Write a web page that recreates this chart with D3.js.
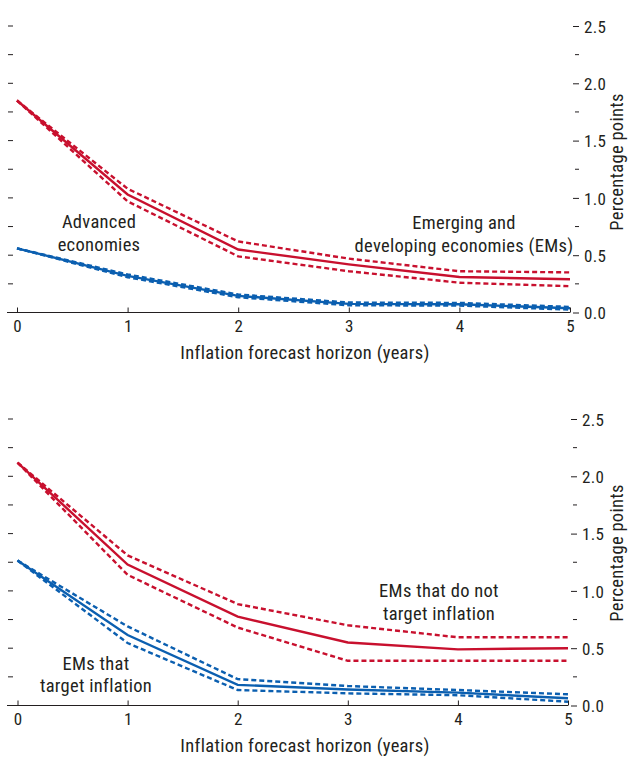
<!DOCTYPE html>
<html>
<head>
<meta charset="utf-8">
<script src="https://cdn.jsdelivr.net/npm/d3@7"></script>
<style>
  html, body { margin: 0; padding: 0; background: #fff; }
  svg text { font-family: "Liberation Sans Narrow", "Roboto Condensed", "DejaVu Sans Condensed", "Liberation Sans", sans-serif; font-stretch: condensed; fill: #231f20; }
</style>
</head>
<body>
<svg id="chart" width="629" height="757"></svg>
<script>
// ---- Data ----
const horizons = [0, 1, 2, 3, 4, 5];
const yTickLabels = ["0.0", "0.5", "1.0", "1.5", "2.0", "2.5"];
const xAxisTitle = "Inflation forecast horizon (years)";
const yAxisTitle = "Percentage points";

// Panel 1: Advanced vs Emerging
const emAll      = [1.85, 1.03, 0.55, 0.42, 0.31, 0.29];
const emAllUpper = [1.85, 1.08, 0.62, 0.47, 0.36, 0.35];
const emAllLower = [1.85, 0.97, 0.49, 0.36, 0.26, 0.23];
const aeAll      = [0.56, 0.32, 0.145, 0.075, 0.072, 0.037];
const aeAllUpper = [0.56, 0.332, 0.157, 0.087, 0.084, 0.049];
const aeAllLower = [0.56, 0.308, 0.133, 0.063, 0.060, 0.025];

// Panel 2: EMs that do not target vs target inflation
const emNonIT      = [2.12, 1.23, 0.775, 0.55, 0.49, 0.50];
const emNonITUpper = [2.12, 1.31, 0.885, 0.70, 0.595, 0.595];
const emNonITLower = [2.12, 1.14, 0.68, 0.39, 0.39, 0.39];
const emIT      = [1.265, 0.615, 0.18, 0.14, 0.112, 0.063];
const emITUpper = [1.265, 0.69, 0.23, 0.17, 0.135, 0.098];
const emITLower = [1.265, 0.545, 0.135, 0.106, 0.09, 0.033];

const RED = "#c8102e";
const BLUE = "#0b5fb0";

const svg = d3.select("#chart");

function drawPanel(cfg) {
  const g = svg.append("g");
  const x = d3.scaleLinear().domain([0, 5]).range([cfg.x0, cfg.x1]);
  const y = d3.scaleLinear().domain([0, 2.5]).range([cfg.yb, cfg.yt]);
  const line = d3.line().x((d, i) => x(horizons[i])).y(d => y(d));

  // left unlabeled ticks
  const minorVals = d3.range(1, 11).map(i => i * 0.25);
  g.selectAll(".lt").data(minorVals).enter().append("line")
    .attr("x1", 8).attr("x2", 13)
    .attr("y1", d => y(d)).attr("y2", d => y(d))
    .attr("stroke", "#231f20").attr("stroke-width", 1);

  // right axis
  const majorVals = yTickLabels.map(Number);
  const ra = d3.axisRight(y).tickValues(majorVals).tickSize(6).tickPadding(5)
    .tickFormat((d, i) => yTickLabels[i]);
  const rg = g.append("g").attr("transform", `translate(${cfg.x1 + 3},0)`).call(ra);
  rg.select(".domain").remove();
  rg.selectAll("text").style("font-size", "17px").style("letter-spacing", "0.3px").attr("dy", "0.36em");
  rg.selectAll("line").attr("stroke", "#231f20");
  const minorR = minorVals.filter(v => Math.abs(v * 2 - Math.round(v * 2)) > 0.01);
  g.selectAll(".rt").data(minorR).enter().append("line")
    .attr("x1", cfg.x1 + 5).attr("x2", cfg.x1 + 9)
    .attr("y1", d => y(d)).attr("y2", d => y(d))
    .attr("stroke", "#231f20").attr("stroke-width", 1);

  // x axis
  g.append("line").attr("x1", 7).attr("x2", cfg.x1).attr("y1", cfg.yb).attr("y2", cfg.yb)
    .attr("stroke", "#231f20").attr("stroke-width", 1.2);
  const xa = d3.axisBottom(x).tickValues(horizons).tickSize(-5).tickPadding(7).tickFormat(d3.format("d"));
  const xg = g.append("g").attr("transform", `translate(0,${cfg.yb})`).call(xa);
  xg.select(".domain").remove();
  xg.selectAll("text").style("font-size", "17px");
  xg.selectAll("line").attr("stroke", "#231f20");

  // titles
  g.append("text").attr("x", 305).attr("y", cfg.yb + 46)
    .attr("text-anchor", "middle").style("font-size", "18.5px").style("letter-spacing", "0.3px").text(xAxisTitle);
  g.append("text").attr("transform", `translate(${623},${cfg.ytitle}) rotate(-90)`)
    .attr("text-anchor", "middle").style("font-size", "18.5px").style("letter-spacing", "0.3px").text(yAxisTitle);

  // series
  cfg.series.forEach(s => {
    [s.upper, s.lower].forEach(arr => {
      g.append("path").datum(arr).attr("d", line).attr("fill", "none")
        .attr("stroke", s.color).attr("stroke-width", 2.4).attr("stroke-dasharray", "5,3");
    });
    g.append("path").datum(s.mid).attr("d", line).attr("fill", "none")
      .attr("stroke", s.color).attr("stroke-width", 2.4);
  });

  // annotations
  cfg.notes.forEach(n => {
    const t = g.append("text").attr("text-anchor", "middle").style("font-size", "18.5px").style("letter-spacing", "0.3px");
    n.lines.forEach((l, i) => {
      t.append("tspan").attr("x", n.x).attr("y", n.y + i * 22.5).text(l);
    });
  });
}

drawPanel({
  x0: 17, x1: 570, yb: 312.5, yt: 26, ytitle: 162,
  series: [
    { mid: emAll, upper: emAllUpper, lower: emAllLower, color: RED },
    { mid: aeAll, upper: aeAllUpper, lower: aeAllLower, color: BLUE }
  ],
  notes: [
    { x: 99, y: 228, lines: ["Advanced", "economies"] },
    { x: 464, y: 229, lines: ["Emerging and", "developing economies (EMs)"] }
  ]
});

drawPanel({
  x0: 17.5, x1: 568, yb: 705.5, yt: 419, ytitle: 553,
  series: [
    { mid: emNonIT, upper: emNonITUpper, lower: emNonITLower, color: RED },
    { mid: emIT, upper: emITUpper, lower: emITLower, color: BLUE }
  ],
  notes: [
    { x: 96, y: 669.5, lines: ["EMs that", "target inflation"] },
    { x: 439, y: 597, lines: ["EMs that do not", "target inflation"] }
  ]
});
</script>
</body>
</html>
